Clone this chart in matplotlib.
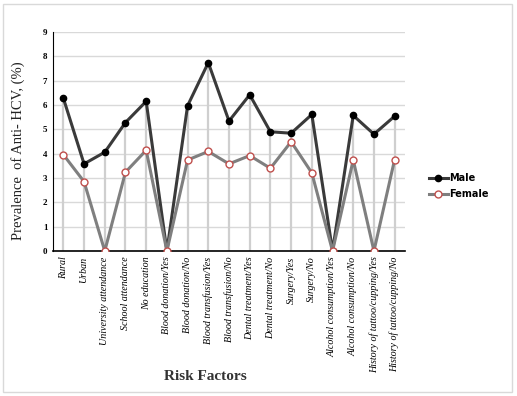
import matplotlib.pyplot as plt
import numpy as np
from matplotlib.patches import Rectangle

# Risk factor categories (x axis)
factors = [
    "Rural", "Urban", "University attendance", "School attendance", "No education",
    "Blood donation/Yes", "Blood donation/No", "Blood transfusion/Yes", "Blood transfusion/No",
    "Dental treatment/Yes", "Dental treatment/No", "Surgery/Yes", "Surgery/No",
    "Alcohol consumption/Yes", "Alcohol consumption/No",
    "History of tattoo/cupping/Yes", "History of tattoo/cupping/No",
]
# prevalence of anti-HCV (%)
male = [6.28, 3.58, 4.06, 5.28, 6.15, 0.0, 5.97, 7.74, 5.34, 6.42, 4.90, 4.84, 5.61, 0.0, 5.57, 4.80, 5.54]
female = [3.96, 2.85, 0.0, 3.24, 4.14, 0.0, 3.74, 4.09, 3.58, 3.92, 3.40, 4.49, 3.21, 0.0, 3.74, 0.0, 3.76]
yticks = list(range(0, 10))

fig = plt.figure(figsize=(5.17, 3.96), dpi=100)
fig.patches.append(Rectangle((3 / 517, 4 / 396), 509 / 517, 388 / 396, transform=fig.transFigure,
                             fill=False, edgecolor="#d9d9d9", linewidth=1.0))

ax = fig.add_axes([53 / 517, 1 - 251 / 396, 352 / 517, 219 / 396])
x = np.arange(len(factors))

# drop lines from the highest point down to the axis
ax.vlines(x, 0, np.maximum(male, female), color="#cfcfcf", linewidth=1.6, zorder=1)

ax.plot(x, male, color="#3a3a3a", linewidth=2.2, marker="o", markersize=4.5,
        markerfacecolor="black", markeredgecolor="black", label="Male", zorder=3)
ax.plot(x, female, color="#7f7f7f", linewidth=2.2, marker="o", markersize=5,
        markerfacecolor="white", markeredgecolor="#c0504d", markeredgewidth=1.0,
        label="Female", zorder=4)

ax.set_xlim(-0.5, len(factors) - 0.5)
ax.set_ylim(0, 9)
ax.set_yticks(yticks)
ax.set_yticklabels([str(t) for t in yticks], fontsize=6.5, fontweight="bold",
                   family="Liberation Serif")
ax.set_xticks(x)
ax.set_xticklabels(factors, rotation=90, fontsize=7.2, style="italic",
                   family="Liberation Serif", va="top", ha="center")
ax.tick_params(axis="both", length=0, pad=4)
ax.grid(axis="y", color="#d9d9d9", linewidth=1.0)
ax.set_axisbelow(True)
for s in ["top", "right"]:
    ax.spines[s].set_visible(False)
ax.spines["left"].set_color("black")
ax.spines["bottom"].set_color("black")
ax.spines["bottom"].set_linewidth(1.2)

fig.text(205 / 517, 1 - 377 / 396, "Risk Factors", ha="center", va="center",
         fontsize=11, fontweight="bold", family="Liberation Serif", color="#333333")
fig.text(18 / 517, 1 - 151 / 396, "Prevalence  of Anti- HCV, (%)", ha="center", va="center",
         rotation=90, fontsize=10.5, family="Liberation Serif", color="#222222")

fig.legend(loc="center left", bbox_to_anchor=(420 / 517, 1 - 186 / 396), frameon=False,
           prop={"size": 7, "weight": "bold"}, handlelength=2.0, handletextpad=0.1,
           labelspacing=0.6)

fig.savefig("out.png", dpi=100)
